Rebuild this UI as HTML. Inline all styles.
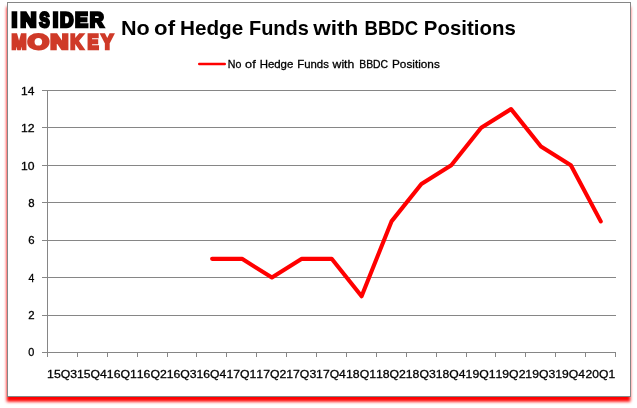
<!DOCTYPE html>
<html><head><meta charset="utf-8"><title>No of Hedge Funds with BBDC Positions</title>
<style>
html,body{margin:0;padding:0;background:#fff;}
body{width:637px;height:408px;position:relative;overflow:hidden;font-family:"Liberation Sans",sans-serif;}
svg{position:absolute;left:0;top:0;}
text{font-family:"Liberation Sans",sans-serif;white-space:pre;}
.gp{text-rendering:geometricPrecision;}
</style></head><body>
<svg width="637" height="408" viewBox="0 0 637 408">
<defs><filter id="sh" x="-5%" y="-5%" width="110%" height="110%"><feGaussianBlur stdDeviation="1.8"/></filter></defs>
<rect x="6.7" y="6.8" width="623.7" height="394.9" fill="#ff0000" filter="url(#sh)"/>
<rect x="7.5" y="2.5" width="623" height="394" fill="#fff" stroke="#868686" stroke-width="1"/>
<g stroke="#868686" stroke-width="1" fill="none" shape-rendering="crispEdges">
<line x1="42" y1="352.5" x2="616" y2="352.5"/>
<line x1="42" y1="315.5" x2="616" y2="315.5"/>
<line x1="42" y1="277.5" x2="616" y2="277.5"/>
<line x1="42" y1="240.5" x2="616" y2="240.5"/>
<line x1="42" y1="202.5" x2="616" y2="202.5"/>
<line x1="42" y1="165.5" x2="616" y2="165.5"/>
<line x1="42" y1="127.5" x2="616" y2="127.5"/>
<line x1="42" y1="90.5" x2="616" y2="90.5"/>
<line x1="47.5" y1="90" x2="47.5" y2="357"/>
<line x1="77.5" y1="352" x2="77.5" y2="357"/>
<line x1="107.5" y1="352" x2="107.5" y2="357"/>
<line x1="137.5" y1="352" x2="137.5" y2="357"/>
<line x1="167.5" y1="352" x2="167.5" y2="357"/>
<line x1="196.5" y1="352" x2="196.5" y2="357"/>
<line x1="226.5" y1="352" x2="226.5" y2="357"/>
<line x1="256.5" y1="352" x2="256.5" y2="357"/>
<line x1="286.5" y1="352" x2="286.5" y2="357"/>
<line x1="316.5" y1="352" x2="316.5" y2="357"/>
<line x1="346.5" y1="352" x2="346.5" y2="357"/>
<line x1="376.5" y1="352" x2="376.5" y2="357"/>
<line x1="406.5" y1="352" x2="406.5" y2="357"/>
<line x1="436.5" y1="352" x2="436.5" y2="357"/>
<line x1="466.5" y1="352" x2="466.5" y2="357"/>
<line x1="495.5" y1="352" x2="495.5" y2="357"/>
<line x1="525.5" y1="352" x2="525.5" y2="357"/>
<line x1="555.5" y1="352" x2="555.5" y2="357"/>
<line x1="585.5" y1="352" x2="585.5" y2="357"/>
<line x1="615.5" y1="352" x2="615.5" y2="357"/>
</g>
<text y="356" font-size="11.7" font-weight="normal" fill="#000" stroke="#000" stroke-width="0.3" stroke-linejoin="miter"><tspan x="28.27" textLength="6.08" lengthAdjust="spacingAndGlyphs">0</tspan></text>
<text y="319" font-size="11.7" font-weight="normal" fill="#000" stroke="#000" stroke-width="0.3" stroke-linejoin="miter"><tspan x="28.13" textLength="6.35" lengthAdjust="spacingAndGlyphs">2</tspan></text>
<text y="282" font-size="11.7" font-weight="normal" fill="#000" stroke="#000" stroke-width="0.3" stroke-linejoin="miter"><tspan x="28.39" textLength="5.84" lengthAdjust="spacingAndGlyphs">4</tspan></text>
<text y="244" font-size="11.7" font-weight="normal" fill="#000" stroke="#000" stroke-width="0.3" stroke-linejoin="miter"><tspan x="28.13" textLength="6.35" lengthAdjust="spacingAndGlyphs">6</tspan></text>
<text y="207" font-size="11.7" font-weight="normal" fill="#000" stroke="#000" stroke-width="0.3" stroke-linejoin="miter"><tspan x="28.13" textLength="6.35" lengthAdjust="spacingAndGlyphs">8</tspan></text>
<text y="170" font-size="11.7" font-weight="normal" fill="#000" stroke="#000" stroke-width="0.3" stroke-linejoin="miter"><tspan x="21.05" textLength="13.53" lengthAdjust="spacingAndGlyphs">10</tspan></text>
<text y="132" font-size="11.7" font-weight="normal" fill="#000" stroke="#000" stroke-width="0.3" stroke-linejoin="miter"><tspan x="21.04" textLength="13.67" lengthAdjust="spacingAndGlyphs">12</tspan></text>
<text y="95" font-size="11.7" font-weight="normal" fill="#000" stroke="#000" stroke-width="0.3" stroke-linejoin="miter"><tspan x="21.06" textLength="13.39" lengthAdjust="spacingAndGlyphs">14</tspan></text>
<text y="378.1" font-size="11.8" font-weight="normal" fill="#000" stroke="#000" stroke-width="0.3" stroke-linejoin="miter"><tspan x="47.07" textLength="30.00" lengthAdjust="spacingAndGlyphs">15Q3</tspan> <tspan x="76.97" textLength="29.73" lengthAdjust="spacingAndGlyphs">15Q4</tspan> <tspan x="106.86" textLength="30.00" lengthAdjust="spacingAndGlyphs">16Q1</tspan> <tspan x="136.75" textLength="30.00" lengthAdjust="spacingAndGlyphs">16Q2</tspan> <tspan x="166.65" textLength="30.00" lengthAdjust="spacingAndGlyphs">16Q3</tspan> <tspan x="196.55" textLength="29.73" lengthAdjust="spacingAndGlyphs">16Q4</tspan> <tspan x="226.44" textLength="30.00" lengthAdjust="spacingAndGlyphs">17Q1</tspan> <tspan x="256.33" textLength="30.00" lengthAdjust="spacingAndGlyphs">17Q2</tspan> <tspan x="286.23" textLength="30.00" lengthAdjust="spacingAndGlyphs">17Q3</tspan> <tspan x="316.13" textLength="29.73" lengthAdjust="spacingAndGlyphs">17Q4</tspan> <tspan x="346.02" textLength="30.00" lengthAdjust="spacingAndGlyphs">18Q1</tspan> <tspan x="375.91" textLength="30.00" lengthAdjust="spacingAndGlyphs">18Q2</tspan> <tspan x="405.81" textLength="30.00" lengthAdjust="spacingAndGlyphs">18Q3</tspan> <tspan x="435.71" textLength="29.73" lengthAdjust="spacingAndGlyphs">18Q4</tspan> <tspan x="465.60" textLength="30.00" lengthAdjust="spacingAndGlyphs">19Q1</tspan> <tspan x="495.49" textLength="30.00" lengthAdjust="spacingAndGlyphs">19Q2</tspan> <tspan x="525.39" textLength="30.00" lengthAdjust="spacingAndGlyphs">19Q3</tspan> <tspan x="555.29" textLength="29.73" lengthAdjust="spacingAndGlyphs">19Q4</tspan> <tspan x="585.57" textLength="29.60" lengthAdjust="spacingAndGlyphs">20Q1</tspan></text>
<polyline points="212.12,258.83 242.02,258.83 271.91,277.54 301.81,258.83 331.70,258.83 361.59,296.26 391.49,221.40 421.38,183.97 451.28,165.26 481.17,127.83 511.07,109.11 540.96,146.54 570.86,165.26 600.75,221.40" fill="none" stroke="#ff0000" stroke-width="4.1" stroke-linecap="round" stroke-linejoin="round"/>
<line x1="199.2" y1="64" x2="224.8" y2="64" stroke="#ff0000" stroke-width="2.4" stroke-linecap="round"/>
<text y="67.7" font-size="11.5" font-weight="normal" fill="#000" stroke="#000" stroke-width="0.3" stroke-linejoin="miter"><tspan x="227.71" textLength="13.60" lengthAdjust="spacingAndGlyphs">No</tspan> <tspan x="245.12" textLength="10.57" lengthAdjust="spacingAndGlyphs">of</tspan> <tspan x="259.65" textLength="33.71" lengthAdjust="spacingAndGlyphs">Hedge</tspan> <tspan x="297.26" textLength="31.66" lengthAdjust="spacingAndGlyphs">Funds</tspan> <tspan x="332.57" textLength="21.75" lengthAdjust="spacingAndGlyphs">with</tspan> <tspan x="359.22" textLength="28.86" lengthAdjust="spacingAndGlyphs">BBDC</tspan> <tspan x="392.03" textLength="47.77" lengthAdjust="spacingAndGlyphs">Positions</tspan></text>
<text y="34.9" font-size="21.0" font-weight="bold" fill="#000"><tspan x="120.99" textLength="28.78" lengthAdjust="spacingAndGlyphs">No</tspan> <tspan x="154.11" textLength="20.94" lengthAdjust="spacingAndGlyphs">of</tspan> <tspan x="179.95" textLength="63.23" lengthAdjust="spacingAndGlyphs">Hedge</tspan> <tspan x="248.99" textLength="59.84" lengthAdjust="spacingAndGlyphs">Funds</tspan> <tspan x="313.20" textLength="45.14" lengthAdjust="spacingAndGlyphs">with</tspan> <tspan x="364.49" textLength="53.60" lengthAdjust="spacingAndGlyphs">BBDC</tspan> <tspan x="423.86" textLength="91.88" lengthAdjust="spacingAndGlyphs">Positions</tspan></text>
<text y="27.3" font-size="20.9" font-weight="bold" fill="#000" stroke="#000" stroke-width="2.6" stroke-linejoin="miter" class="gp"><tspan x="11.40" textLength="5.86" lengthAdjust="spacingAndGlyphs">I</tspan><tspan x="20.20" textLength="16.30" lengthAdjust="spacingAndGlyphs">N</tspan><tspan x="39.35" textLength="10.43" lengthAdjust="spacingAndGlyphs">S</tspan><tspan x="52.70" textLength="5.56" lengthAdjust="spacingAndGlyphs">I</tspan><tspan x="60.00" textLength="13.54" lengthAdjust="spacingAndGlyphs">D</tspan><tspan x="75.10" textLength="12.98" lengthAdjust="spacingAndGlyphs">E</tspan><tspan x="89.80" textLength="14.12" lengthAdjust="spacingAndGlyphs">R</tspan></text>
<text y="49.400000000000006" font-size="20.9" font-weight="bold" fill="#cf3a28" stroke="#cf3a28" stroke-width="2.6" stroke-linejoin="miter" class="gp"><tspan x="11.40" textLength="15.03" lengthAdjust="spacingAndGlyphs">M</tspan><tspan x="27.66" textLength="21.29" lengthAdjust="spacingAndGlyphs">O</tspan><tspan x="50.20" textLength="18.31" lengthAdjust="spacingAndGlyphs">N</tspan><tspan x="70.20" textLength="13.10" lengthAdjust="spacingAndGlyphs">K</tspan><tspan x="87.40" textLength="11.15" lengthAdjust="spacingAndGlyphs">E</tspan><tspan x="101.22" textLength="12.01" lengthAdjust="spacingAndGlyphs">Y</tspan></text>
</svg></body></html>
